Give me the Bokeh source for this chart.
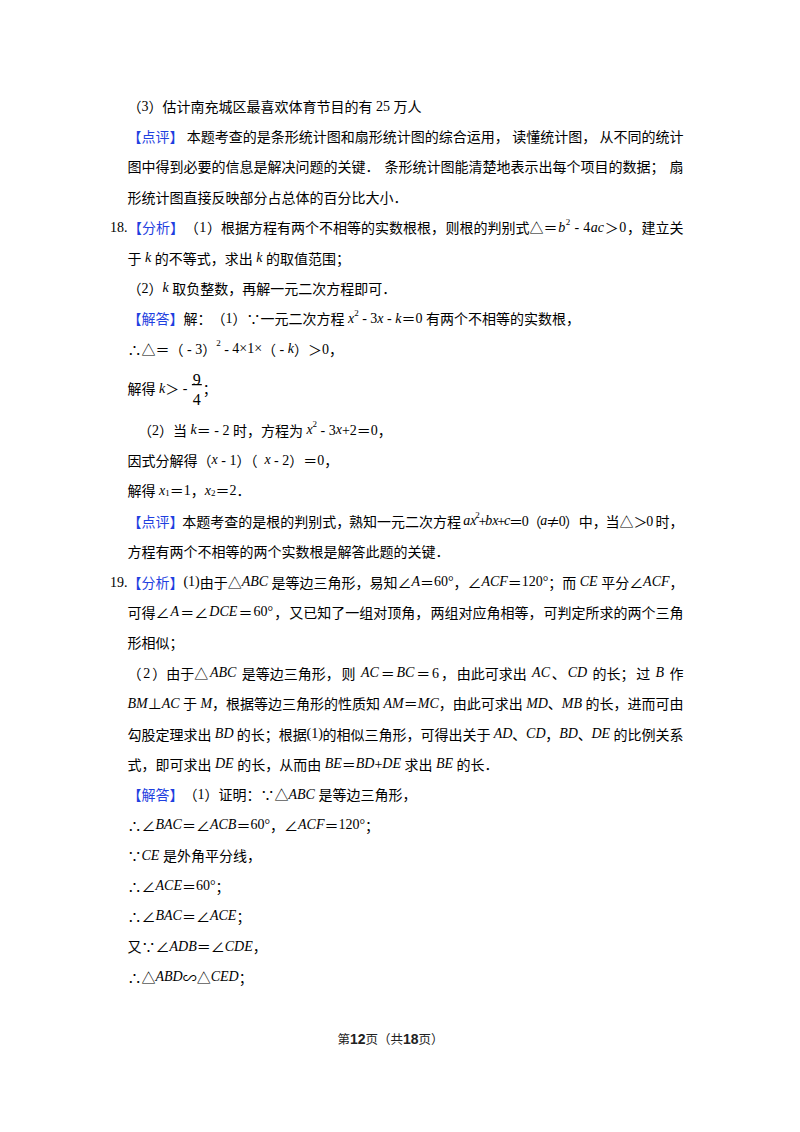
"""
试卷第12页：文字排版。
"""
import re

from bokeh.core.properties import value
from bokeh.embed import file_html
from bokeh.models import Range1d
from bokeh.plotting import figure
from bokeh.resources import INLINE

# 正文各行（*斜体*，^上标^，_下标_，{分子|分母} 为分数）
lines = [
    "（3）估计南充城区最喜欢体育节目的有25万人",
    "【点评】本题考查的是条形统计图和扇形统计图的综合运用，读懂统计图，从不同的统计",
    "图中得到必要的信息是解决问题的关键．条形统计图能清楚地表示出每个项目的数据；扇",
    "形统计图直接反映部分占总体的百分比大小．",
    "18.【分析】（1）根据方程有两个不相等的实数根根，则根的判别式△＝*b*^2^ - 4*ac*＞0，建立关",
    "于*k*的不等式，求出*k*的取值范围；",
    "（2）*k*取负整数，再解一元二次方程即可．",
    "【解答】解：（1）∵一元二次方程*x*^2^ - 3*x* - *k*＝0有两个不相等的实数根，",
    "∴△＝（ - 3）^2^ - 4×1×（ - *k*）＞0，",
    "解得*k*＞ - {9|4}；",
    "   （2）当*k*＝ - 2时，方程为*x*^2^ - 3*x*+2＝0，",
    "因式分解得（*x* - 1）（*x* - 2）＝0，",
    "解得*x*_1_＝1，*x*_2_＝2．",
    "【点评】本题考查的是根的判别式，熟知一元二次方程*ax*^2^+*bx*+*c*＝0（*a*≠0）中，当△＞0时，",
    "方程有两个不相等的两个实数根是解答此题的关键．",
    "19.【分析】(1)由于△*ABC*是等边三角形，易知∠*A*＝60°，∠*ACF*＝120°；而*CE*平分∠*ACF*，",
    "可得∠*A*＝∠*DCE*＝60°，又已知了一组对顶角，两组对应角相等，可判定所求的两个三角",
    "形相似；",
    "（2）由于△*ABC*是等边三角形，则*AC*＝*BC*＝6，由此可求出*AC*、*CD*的长；过*B*作",
    "*BM*⊥*AC*于*M*，根据等边三角形的性质知*AM*＝*MC*，由此可求出*MD*、*MB*的长，进而可由",
    "勾股定理求出*BD*的长；根据(1)的相似三角形，可得出关于*AD*、*CD*，*BD*、*DE*的比例关系",
    "式，即可求出*DE*的长，从而由*BE*＝*BD*+*DE*求出*BE*的长．",
    "【解答】（1）证明：∵△*ABC*是等边三角形，",
    "∴∠*BAC*＝∠*ACB*＝60°，∠*ACF*＝120°；",
    "∵*CE*是外角平分线，",
    "∴∠*ACE*＝60°；",
    "∴∠*BAC*＝∠*ACE*；",
    "又∵∠*ADB*＝∠*CDE*，",
    "∴△*ABD*∽△*CED*；",
]
footer_text = "第12页（共18页）"

# 版面
LEFT, RIGHT, TOP, STEP, SIZE = 135, 691, 108, 30.4, 14
CJK_FONT = "Noto Sans CJK SC"
LAT_FONT = "Liberation Serif"
BLACK = "#000000"
BLUE = "#1f3fe0"

# Times 字宽（em）
REG = {' ': .25, '.': .25, ',': .25, '(': .333, ')': .333, '+': .564, '-': .333,
       '=': .564, '>': .564, '×': .564, '°': .4, ';': .278, ':': .278}
ITA = {'a': .5, 'b': .5, 'c': .444, 'k': .444, 'x': .444, 'A': .611, 'B': .611,
       'C': .667, 'D': .722, 'E': .611, 'F': .611, 'M': .833}
PUNCT = "，；：、．"


def is_cjk(ch):
    return ord(ch) >= 0x2000


def is_han(ch):
    return len(ch) == 1 and 0x4E00 <= ord(ch) <= 0x9FFF


def parse(s):
    items = []
    ita = sup = sub = blue = False
    i = 0
    while i < len(s):
        ch = s[i]
        if ch == '*':
            ita = not ita
        elif ch == '^':
            sup = not sup
        elif ch == '_':
            sub = not sub
        elif ch == '{':
            j = s.index('}', i)
            num, den = s[i + 1:j].split('|')
            items.append(dict(kind='frac', ch='', num=num, den=den, w=0.85 * SIZE, level=0, blue=blue))
            i = j
        else:
            if ch == '【':
                blue = True
            level = 1 if sup else (-1 if sub else 0)
            size = SIZE * 0.64 if level else SIZE
            if is_cjk(ch):
                kind, w = 'cjk', size
            elif ita:
                kind, w = 'ita', ITA.get(ch, .5) * size
            else:
                kind, w = 'lat', REG.get(ch, .5) * size
            items.append(dict(kind=kind, ch=ch, w=w, level=level, blue=blue))
            if ch == '】':
                blue = False
        i += 1
    return items


def autospace(a, b):
    la = a['kind'] in ('lat', 'ita') and a['ch'].isalnum()
    lb = b['kind'] in ('lat', 'ita') and b['ch'].isalnum()
    return SIZE * 0.25 if (is_han(a['ch']) and lb) or (la and is_han(b['ch'])) else 0


def make_runs(items):
    # 空格单独成段（SVG 会吞掉首尾空格）
    runs = []
    for k, it in enumerate(items):
        gap = autospace(items[k - 1], it) if k else 0
        key = (it['kind'], it['level'], it['blue'])
        prev = runs[-1] if runs else None
        if (prev is None or it['kind'] == 'frac' or prev['key'] != key or gap
                or prev['key'][0] == 'frac' or prev['text'][-1:] in PUNCT
                or it['ch'] == ' ' or prev['text'][-1:] == ' '):
            runs.append(dict(key=key, text=it['ch'], w=it['w'], gap=gap, item=it))
        else:
            prev['text'] += it['ch']
            prev['w'] += it['w']
    return runs


p = figure(width=784, height=1116, x_range=Range1d(8, 792), y_range=Range1d(1124, 8),
           output_backend="svg", toolbar_location=None, min_border=0,
           x_axis_location=None, y_axis_location=None)
p.grid.visible = False
p.outline_line_color = None
p.background_fill_color = "white"
p.border_fill_color = "white"

groups = {}
bars = dict(x=[], y=[], w=[])


def put(key, x, y, text):
    g = groups.setdefault(key, dict(x=[], y=[], text=[]))
    g['x'].append(x)
    g['y'].append(y)
    g['text'].append(text)


# 行的位置
ys = []
y = TOP
for i, s in enumerate(lines):
    if i:
        y += STEP
    if '{' in s:
        y += 9
    ys.append(y)
    if '{' in s:
        y += 11

for s, yc in zip(lines, ys):
    items = parse(s)
    runs = make_runs(items)
    m = re.match(r'^\d+\.', s)
    hang = sum(it['w'] for it in items[:len(m.group(0))]) if m else 0
    x = LEFT - hang
    natural = sum(r['w'] + r['gap'] for r in runs)
    avail = RIGHT - x
    inner = [r for r in runs[1:] if r['text'].strip() or r['key'][0] == 'frac']
    extra = 0
    if natural > 0.9 * avail and inner:
        extra = (avail - natural) / len(inner)
    base = yc + 5
    for k, r in enumerate(runs):
        x += r['gap']
        if k and (r['text'].strip() or r['key'][0] == 'frac'):
            x += extra
        kind, level, blue = r['key']
        color = BLUE if blue else BLACK
        if kind == 'frac':
            it = r['item']
            cx = x + r['w'] / 2
            put((LAT_FONT, 'normal', 16, BLACK, 'center'), cx, yc - 3.5, it['num'])
            put((LAT_FONT, 'normal', 16, BLACK, 'center'), cx, yc + 16.5, it['den'])
            bars['x'].append(cx)
            bars['y'].append(yc + 1.5)
            bars['w'].append(r['w'] - 2)
        elif r['text'].strip():
            size = SIZE * 0.64 if level else SIZE
            yy = base - 5.5 if level == 1 else (base + 3 if level == -1 else base)
            font = CJK_FONT if kind == 'cjk' else LAT_FONT
            style = 'italic' if kind == 'ita' else 'normal'
            put((font, style, round(size, 1), color, 'left'), x, yy, r['text'])
        x += r['w']

# 页脚
fparts = re.findall(r'\d+|\D+', footer_text)
fw = [len(t) * (14 * .556 if t.isdigit() else 12.5) for t in fparts]
fx = 398 - sum(fw) / 2
for t, w in zip(fparts, fw):
    if t.isdigit():
        put(("Liberation Sans", 'bold', 14, "#222222", 'left'), fx, 1046, t)
    else:
        put((CJK_FONT, 'normal', 12.5, "#222222", 'left'), fx, 1045.5, t)
    fx += w

for (font, style, size, color, align), g in groups.items():
    p.text(x=g['x'], y=g['y'], text=g['text'], text_font=value(font), text_font_style=style,
           text_font_size=f"{size}px", text_color=color, text_align=align,
           text_baseline="alphabetic")

# 分数线
p.rect(x=bars['x'], y=bars['y'], width=bars['w'], height=1.3, fill_color=BLACK, line_color=None)

open("out.html", "w").write(file_html(p, INLINE))
